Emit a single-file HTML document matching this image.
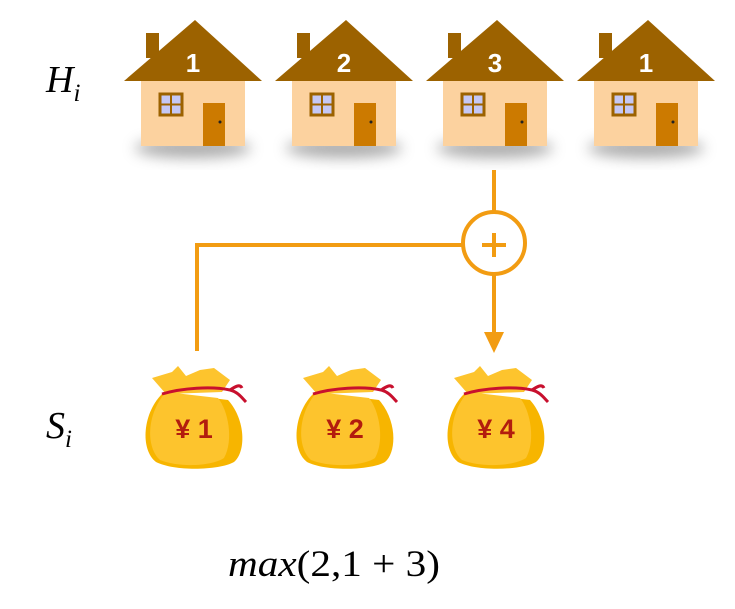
<!DOCTYPE html>
<html><head><meta charset="utf-8"><style>
html,body{margin:0;padding:0;background:#fff;}
svg{display:block;}
</style></head><body>
<svg id="dg" width="735" height="609" viewBox="0 0 735 609" xmlns="http://www.w3.org/2000/svg">
<defs>
<filter id="sh" x="-30%" y="-60%" width="160%" height="220%"><feGaussianBlur stdDeviation="7"/></filter>
</defs>
<g id="houses"></g>
<g id="bags"></g>
<g stroke="#f29c12" stroke-width="4" fill="none">
<line x1="494" y1="170" x2="494" y2="212"/>
<circle cx="494" cy="243" r="31" fill="#fff"/>
<line x1="482" y1="245" x2="506" y2="245"/><line x1="494" y1="233" x2="494" y2="257"/>
<polyline points="463,245 197,245 197,351"/>
<line x1="494" y1="274" x2="494" y2="335"/>
</g>
<polygon points="484,332 504,332 494,353" fill="#f29c12"/>
<text x="46" y="92" font-family="Liberation Serif, serif" font-style="italic" font-size="38">H<tspan font-size="25" dy="9">i</tspan></text>
<text x="46" y="438" font-family="Liberation Serif, serif" font-style="italic" font-size="38">S<tspan font-size="25" dy="9">i</tspan></text>
<text x="228" y="576" font-family="Liberation Serif, serif" font-size="37" textLength="212" lengthAdjust="spacingAndGlyphs"><tspan font-style="italic">max</tspan>(2,1 + 3)</text>
</svg>
<script>
const houseValues = [1, 2, 3, 1];
const bagValues = [1, 2, 4];
const NS = "http://www.w3.org/2000/svg";
function mk(tag, attrs, parent){const e=document.createElementNS(NS,tag);for(const k in attrs)e.setAttribute(k,attrs[k]);parent.appendChild(e);return e;}
const hg=document.getElementById('houses');
houseValues.forEach((v,i)=>{
  const x=124+i*151;
  const g=mk('g',{transform:`translate(${x},0)`},hg);
  
  
  mk('ellipse',{cx:69,cy:148,rx:58,ry:10,fill:'#888',opacity:0.7,filter:'url(#sh)'},g);
  mk('rect',{x:17,y:80,width:104,height:66,fill:'#fcd29f'},g);
  mk('rect',{x:22,y:33,width:13,height:25,fill:'#9c6200'},g);
  mk('polygon',{points:'0,81 71,20 138,81',fill:'#9c6200'},g);
  mk('rect',{x:36,y:94,width:22,height:21,fill:'#c5c8f5',stroke:'#9c6200','stroke-width':3},g);
  mk('line',{x1:47,y1:94,x2:47,y2:115,stroke:'#9c6200','stroke-width':2},g);
  mk('line',{x1:36,y1:104.5,x2:58,y2:104.5,stroke:'#9c6200','stroke-width':2},g);
  mk('rect',{x:79,y:103,width:22,height:43,fill:'#cc7a00'},g);
  mk('circle',{cx:96,cy:122,r:1.5,fill:'#222'},g);
  const t=mk('text',{x:69,y:72,'text-anchor':'middle',fill:'#fff','font-family':'Liberation Sans, sans-serif','font-weight':'bold','font-size':26},g);
  t.textContent=v;
  
  
});
const bg=document.getElementById('bags');
bagValues.forEach((v,i)=>{
  const x=142+i*151;
  const g=mk('g',{transform:`translate(${x},0)`},bg);
  
  
  mk('path',{d:'M22,392 C0,412 -2,450 14,462 C34,472 78,470 92,462 C104,452 104,420 86,400 Z',fill:'#f7b500'},g);
  mk('path',{d:'M24,392 C4,414 4,448 18,460 C38,468 70,466 82,458 C92,440 86,410 76,398 Z',fill:'#fdc42d'},g);
  mk('path',{d:'M10,378 L30,372 L36,366 L44,376 L58,370 L72,368 L88,380 L80,392 L24,394 Z',fill:'#fdc42d'},g);
  mk('path',{d:'M20,394 C40,388 70,386 88,390 C96,392 100,398 104,402 M88,390 C94,386 98,384 100,388',fill:'none',stroke:'#c8102e','stroke-width':3},g);
  const t=mk('text',{x:52,y:438,'text-anchor':'middle',fill:'#b21c0e','font-family':'Liberation Sans, "Noto Sans CJK SC", sans-serif','font-weight':'bold','font-size':27},g);
  t.textContent='¥ '+v;
  
  
});
</script>
</body></html>
